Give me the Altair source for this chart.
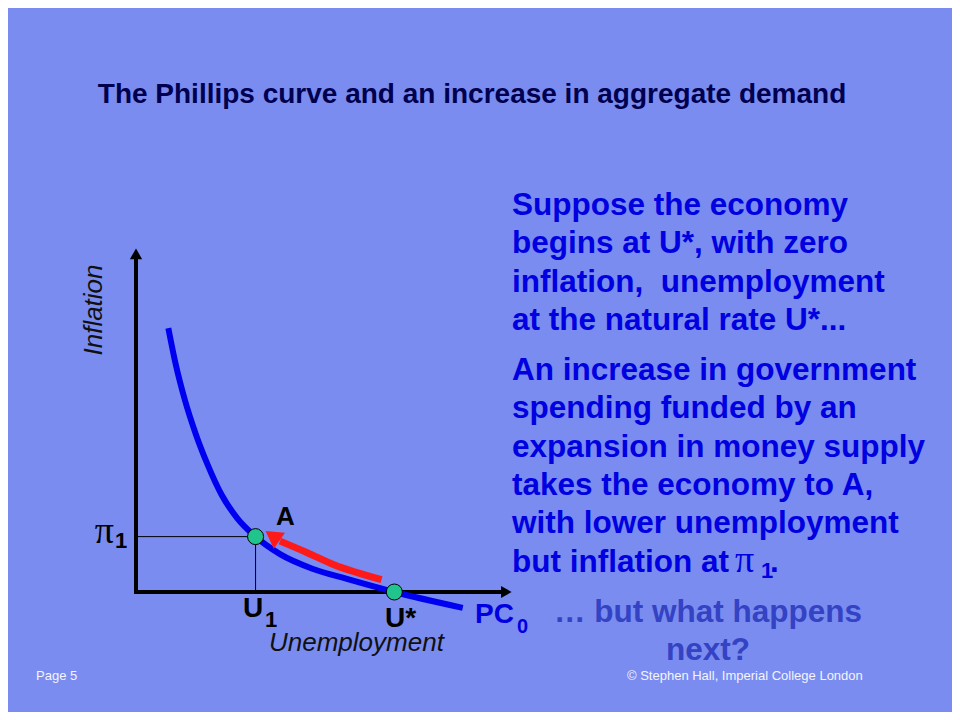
import altair as alt
import pandas as pd

# ---- data (units: unemployment on x, inflation on y; axis runs 0..10) ----
pc_unemployment = [0.86, 1.06, 1.30, 1.60, 1.91, 2.28, 2.69, 3.18, 3.83, 4.71, 5.61, 6.87, 8.69]
pc_inflation = [7.67, 6.60, 5.58, 4.56, 3.69, 2.82, 2.15, 1.61, 1.10, 0.67, 0.38, 0.0, -0.46]

move_unemployment = [6.53, 5.25, 4.54, 3.83]
move_inflation = [0.36, 0.80, 1.15, 1.48]
move_head_u = [3.63]
move_head_pi = [1.63]

point_names = ["A", "U*"]
point_u = [3.18, 6.87]
point_pi = [1.61, 0.0]

U1 = 3.18
PI1 = 1.61

NB = "\u00a0"
title_text = "The Phillips curve and an increase in aggregate demand"
para1 = ["Suppose the economy", "begins at U*, with zero",
         "inflation," + NB + " unemployment", "at the natural rate U*..."]
para2 = ["An increase in government", "spending funded by an",
         "expansion in money supply", "takes the economy to A,",
         "with lower unemployment", "but inflation at"]
para3 = ["\u2026 but what happens", "next?"]

BG = "#7A8CEF"
BLUE = "#0000E0"
FONT = "Liberation Sans"

xs = alt.Scale(domain=[0, 10], nice=False, zero=False)
ys = alt.Scale(domain=[0, 10], nice=False, zero=False)

one = pd.DataFrame({"k": [0]})

def txt(text, x, y, size, color="black", weight="bold", style="normal",
        align="left", font=FONT, angle=0, line_height=None):
    kw = dict(fontSize=size, color=color, fontWeight=weight, fontStyle=style,
              align=align, baseline="alphabetic", font=font, angle=angle)
    if line_height is not None:
        kw["lineHeight"] = line_height
    return alt.Chart(one).mark_text(**kw).encode(
        x=alt.value(x), y=alt.value(y), text=alt.value(text))

# axes
axes_df = pd.DataFrame({"x0": [0, 0], "x1": [9.75, 0], "y0": [0, 0], "y1": [0, 9.7]})
axes = alt.Chart(axes_df).mark_rule(color="black", strokeWidth=4, strokeCap="square").encode(
    x=alt.X("x0:Q", scale=xs, axis=None), x2="x1:Q",
    y=alt.Y("y0:Q", scale=ys, axis=None), y2="y1:Q")

heads_df = pd.DataFrame({"u": [0, 9.85], "p": [9.83, 0]})
axis_heads_y = alt.Chart(heads_df.iloc[[0]]).mark_point(
    shape="triangle-up", filled=True, color="black", opacity=1, size=150, angle=0).encode(
    x=alt.X("u:Q", scale=xs), y=alt.Y("p:Q", scale=ys))
axis_heads_x = alt.Chart(heads_df.iloc[[1]]).mark_point(
    shape="triangle-up", filled=True, color="black", opacity=1, size=150, angle=90).encode(
    x=alt.X("u:Q", scale=xs), y=alt.Y("p:Q", scale=ys))

# guide lines to A
guides_df = pd.DataFrame({"x0": [0, U1], "x1": [U1, U1], "y0": [PI1, 0], "y1": [PI1, PI1]})
guides = alt.Chart(guides_df).mark_rule(color="black", strokeWidth=1).encode(
    x=alt.X("x0:Q", scale=xs), x2="x1:Q", y=alt.Y("y0:Q", scale=ys), y2="y1:Q")

# Phillips curve
pc_df = pd.DataFrame({"u": pc_unemployment, "p": pc_inflation})
curve = alt.Chart(pc_df).mark_line(color="#0000F0", strokeWidth=6, interpolate="monotone",
                                   strokeCap="butt").encode(
    x=alt.X("u:Q", scale=xs), y=alt.Y("p:Q", scale=ys))

# red movement arrow
mv_df = pd.DataFrame({"u": move_unemployment, "p": move_inflation})
shaft = alt.Chart(mv_df).mark_line(color="#FF1A1A", strokeWidth=7, interpolate="monotone",
                                   strokeCap="butt").encode(
    x=alt.X("u:Q", scale=xs), y=alt.Y("p:Q", scale=ys))
head_df = pd.DataFrame({"u": move_head_u, "p": move_head_pi})
head = alt.Chart(head_df).mark_point(shape="triangle-up", filled=True, color="#FF1A1A",
                                     opacity=1, size=380, angle=305).encode(
    x=alt.X("u:Q", scale=xs), y=alt.Y("p:Q", scale=ys))

# equilibrium points
pts_df = pd.DataFrame({"name": point_names, "u": point_u, "p": point_pi})
pts = alt.Chart(pts_df).mark_point(shape="circle", filled=True, fill="#22C48E", stroke="black",
                                   strokeWidth=1, opacity=1, size=256).encode(
    x=alt.X("u:Q", scale=xs), y=alt.Y("p:Q", scale=ys))

# text (positions in px relative to plot origin at page (136, 248))
texts = [
    txt(title_text, 336, -145, 28, color="#000050", align="center"),
    txt(para1, 376, -33, 31.5, color=BLUE, line_height=38.3),
    txt(para2, 376, 132, 31.5, color=BLUE, line_height=38.3),
    txt("\u03c0", 599, 323.7, 38, color=BLUE, weight="normal", font="Liberation Serif"),
    txt("1", 625, 330, 22, color=BLUE),
    txt(".", 634, 323.7, 31.5, color=BLUE),
    txt(para3, 572, 373.7, 31.5, color="#3442C4", align="center", line_height=38.3),
    txt("A", 140, 277, 26),
    txt("\u03c0", -22, 295, 38, weight="normal", font="Liberation Serif", align="right"),
    txt("1", -21, 300, 22),
    txt("U", 107, 369, 28),
    txt("1", 129, 379, 22),
    txt("U*", 249, 379, 28),
    txt("PC", 339, 375, 28, color=BLUE),
    txt("0", 381, 385, 20, color=BLUE),
    txt("Unemployment", 133, 403, 26, weight="normal", style="italic", color="#101010"),
    txt("Inflation", -34, 62, 26, weight="normal", style="italic", color="#101010",
        align="center", angle=270),
    txt("Page 5", -100, 432, 13, weight="normal", color="#F4F4FF"),
    txt("\u00a9 Stephen Hall, Imperial College London", 491, 432, 13, weight="normal",
        color="#F4F4FF"),
]

chart = alt.layer(axes, guides, curve, shaft, head, axis_heads_y, axis_heads_x, pts, *texts).properties(
    width=376, height=344,
    padding={"left": 128, "top": 240, "right": 440, "bottom": 120},
    autosize=alt.AutoSizeParams(type="none"),
    background=BG,
).configure_view(stroke=None)

chart.save("out.html", embed_options={"renderer": "svg", "actions": False})
